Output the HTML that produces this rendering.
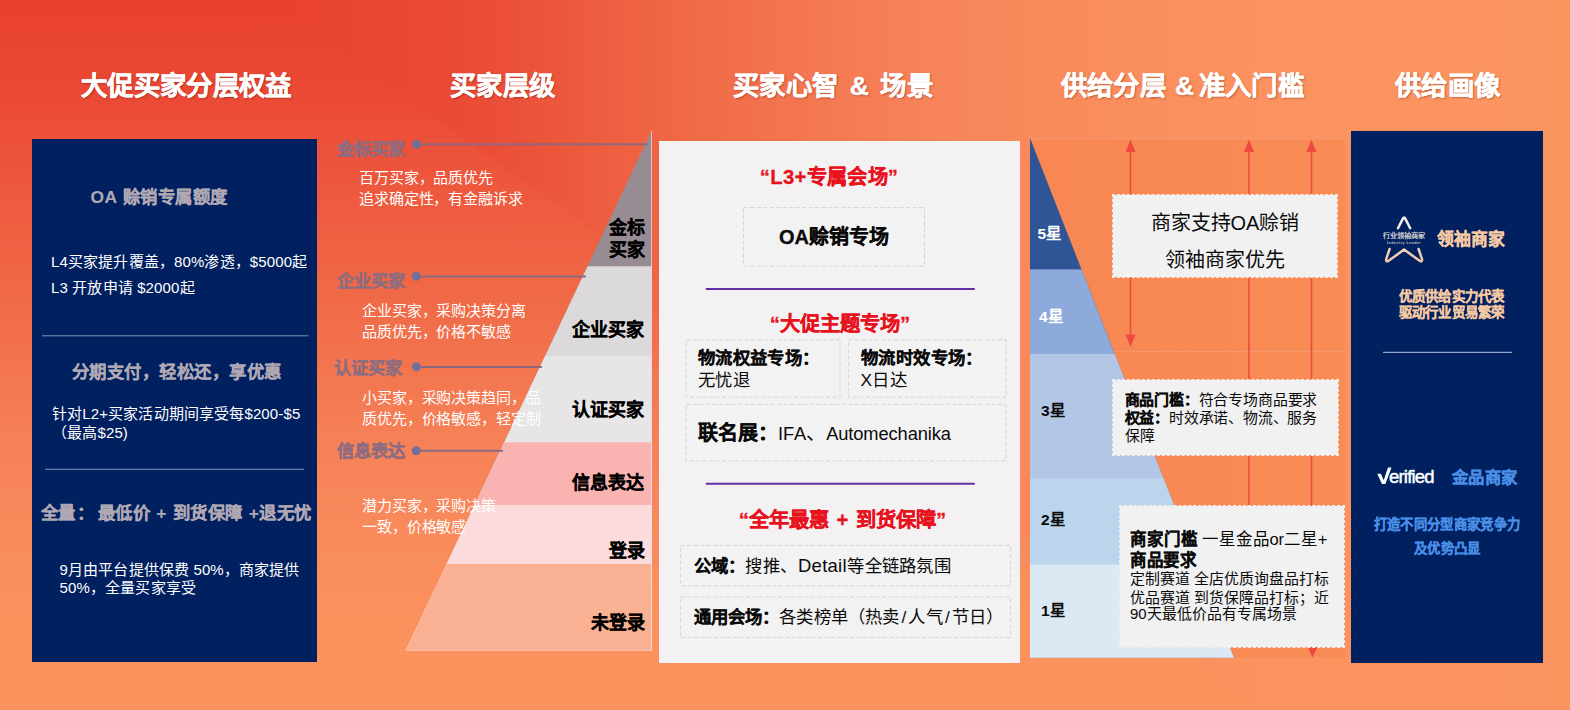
<!DOCTYPE html>
<html lang="zh-CN">
<head>
<meta charset="utf-8">
<title>大促买家分层权益</title>
<style>
html,body{margin:0;padding:0;}
body{width:1570px;height:710px;overflow:hidden;position:relative;font-family:"Liberation Sans",sans-serif;
 background:#fb935f;}
#bg{position:absolute;left:0;top:0;width:1570px;height:710px;}
svg{position:absolute;left:0;top:0;}
.t{position:absolute;white-space:nowrap;line-height:1;font-kerning:none;}
.h{color:#fff;font-weight:700;font-size:26.4px;letter-spacing:.35px;-webkit-text-stroke:.45px #fff;text-shadow:1px 1px 2px rgba(90,20,10,.45);}
.navy{position:absolute;background:#002060;}
.w{color:#fff;letter-spacing:.14px;}
.g{color:#b0a9b4;font-weight:700;font-size:17.4px;letter-spacing:.46px;-webkit-text-stroke:.12px #b0a9b4;}
.lv{color:#8d6c7f;font-weight:700;font-size:17.3px;-webkit-text-stroke:.2px #8d6c7f;}
.d{color:#fff;font-size:15px;letter-spacing:-.12px;}
.pl{color:#000;font-weight:700;font-size:18px;text-align:right;-webkit-text-stroke:.22px #000;}
.red{color:#e8121e;font-weight:700;font-size:20.3px;-webkit-text-stroke:.3px #e8121e;}
.box{position:absolute;border:1px dashed #d2d0d1;box-sizing:border-box;}
.wb{position:absolute;background:#f1f1f2;border:1px dashed #f1ece9;box-sizing:border-box;background-clip:padding-box;}
.k{color:#0a0a0a;}
b{font-weight:700;-webkit-text-stroke:.18px #0a0a0a;}
i{font-style:normal;margin:0 2.1px;}
.st{font-weight:700;font-size:15.5px;}
</style>
</head>
<body>
<svg id="bg" width="1570" height="710" viewBox="0 0 1570 710">
 <defs>
  <linearGradient id="gh" gradientUnits="userSpaceOnUse" x1="270" y1="0" x2="1570" y2="0">
   <stop offset="0" stop-color="#e8402f"/><stop offset=".16" stop-color="#ea4c35"/><stop offset=".33" stop-color="#f06b48"/><stop offset=".5" stop-color="#f7835a"/><stop offset=".62" stop-color="#fa8c5c"/><stop offset=".76" stop-color="#fb925f"/><stop offset="1" stop-color="#fb9560"/>
  </linearGradient>
  <linearGradient id="gv" gradientUnits="userSpaceOnUse" x1="0" y1="0" x2="0" y2="928">
   <stop offset="0" stop-color="#e8402f"/><stop offset=".108" stop-color="#eb4a35"/><stop offset=".215" stop-color="#ee5a3e"/><stop offset=".323" stop-color="#f06a47"/><stop offset=".383" stop-color="#f2734d"/><stop offset=".485" stop-color="#f68258"/><stop offset=".58" stop-color="#f98b5c"/><stop offset=".668" stop-color="#fb925e"/><stop offset="1" stop-color="#fb945f"/>
  </linearGradient>
 </defs>
 <rect x="0" y="0" width="1570" height="710" fill="url(#gh)"/>
 <polygon points="0,0 270,0 1265,710 0,710" fill="url(#gv)"/>
</svg>

<!-- panels -->
<div class="navy" style="left:32px;top:139px;width:285px;height:522.5px;"></div>
<div class="navy" style="left:1351px;top:130.5px;width:192px;height:532.5px;"></div>
<div style="position:absolute;left:659px;top:141px;width:361px;height:522px;background:#f3f1f2;"></div>

<svg width="1570" height="710" viewBox="0 0 1570 710">
 <!-- left pyramid -->
 <defs>
  <clipPath id="lp"><polygon points="651.5,131 651.5,650.5 405.8,650.5"/></clipPath>
  <clipPath id="rp"><polygon points="1030,138 1030,657.5 1233.6,657.5"/></clipPath>
 </defs>
 <g clip-path="url(#lp)">
  <rect x="400" y="120" width="260" height="535.0" fill="#988c94"/>
  <rect x="400" y="266.3" width="260" height="388.7" fill="#dbd9da"/>
  <rect x="400" y="356.3" width="260" height="298.7" fill="#e7e5e6"/>
  <rect x="400" y="442.3" width="260" height="212.7" fill="#f9b3b0"/>
  <rect x="400" y="505.0" width="260" height="150.0" fill="#fbdbdb"/>
  <rect x="400" y="564.0" width="260" height="91.0" fill="#fab092"/>
 </g>
 <line x1="651.5" y1="131" x2="651.5" y2="650.5" stroke="#f3e6e6" stroke-opacity=".7" stroke-width="1"/>

 <!-- right faint region -->
 <rect x="1030" y="138.5" width="315" height="519" fill="#f78349" fill-opacity=".45"/>
 <line x1="1030" y1="138.8" x2="1345" y2="138.8" stroke="#f3a484" stroke-width="1" stroke-opacity=".7"/>
 <line x1="1115" y1="351.5" x2="1345" y2="351.5" stroke="#f3a484" stroke-width="1" stroke-opacity=".5"/>

 <!-- right pyramid -->
 <g clip-path="url(#rp)">
  <rect x="1025" y="130" width="220" height="532.0" fill="#2f5597"/>
  <rect x="1025" y="269.4" width="220" height="392.6" fill="#8eaadb"/>
  <rect x="1025" y="354.0" width="220" height="308.0" fill="#b3c6e6"/>
  <rect x="1025" y="478.5" width="220" height="183.5" fill="#bbd5ed"/>
  <rect x="1025" y="564.5" width="220" height="97.5" fill="#dde8f5"/>
 </g>

 <!-- red arrows -->
 <g stroke="#f04a40" stroke-width="1.6" fill="#f04a40">
  <line x1="1130.5" y1="150" x2="1130.5" y2="338"/>
  <polygon points="1130.5,139.5 1125.5,152 1135.5,152" stroke="none"/>
  <polygon points="1130.5,347 1125.5,334.5 1135.5,334.5" stroke="none"/>
  <line x1="1249" y1="150" x2="1249" y2="505"/>
  <polygon points="1249,139.5 1244,152 1254,152" stroke="none"/>
  <line x1="1311.5" y1="150" x2="1311.5" y2="648"/>
  <polygon points="1311.5,139.5 1306.5,152 1316.5,152" stroke="none"/>
  <polygon points="1312.5,657.5 1307,646 1318,646" stroke="none"/>
 </g>

 <!-- level connector lines -->
 <g stroke="#8d6a7e" stroke-width="2" fill="#72709a">
  <line x1="416" y1="144.3" x2="648" y2="144.3"/><circle cx="416.5" cy="144.2" r="4.5" stroke="none"/>
  <line x1="416" y1="276.4" x2="586" y2="276.4"/><circle cx="416.3" cy="276.2" r="4.5" stroke="none"/>
  <line x1="416" y1="366.9" x2="542" y2="366.9"/><circle cx="416.3" cy="366.8" r="4.5" stroke="none"/>
  <line x1="416" y1="450.7" x2="503" y2="450.7"/><circle cx="416.2" cy="450.7" r="4.5" stroke="none"/>
 </g>


 <!-- center dashed boxes -->
 <g fill="#f2f2f2" stroke="#d4d4d4" stroke-width="1" stroke-dasharray="4.3 2.2">
  <rect x="743.5" y="207.6" width="181" height="58.6"/>
  <rect x="686" y="339.8" width="154" height="57.4"/>
  <rect x="848.6" y="339.8" width="157.4" height="57.4"/>
  <rect x="686" y="404.3" width="320" height="56.6"/>
  <rect x="680.6" y="545.4" width="330" height="40.4"/>
  <rect x="680.6" y="597" width="330" height="40.4"/>
 </g>
 <!-- center purple lines -->
 <line x1="705.8" y1="288.9" x2="974.8" y2="288.9" stroke="#6230a2" stroke-width="2"/>
 <line x1="705.8" y1="483.7" x2="974.8" y2="483.7" stroke="#6230a2" stroke-width="2"/>

 <!-- left panel dividers -->
 <line x1="42" y1="335.8" x2="308.5" y2="335.8" stroke="#7f93b8" stroke-width="1"/>
 <line x1="45" y1="469.3" x2="304" y2="469.3" stroke="#7f93b8" stroke-width="1"/>
 <!-- right panel divider -->
 <line x1="1383" y1="352.3" x2="1512" y2="352.3" stroke="#b5c4e2" stroke-width="1"/>

 <!-- star logo -->
 <defs><linearGradient id="sg" gradientUnits="userSpaceOnUse" x1="0" y1="216" x2="0" y2="263"><stop offset="0" stop-color="#f6f1ec"/><stop offset=".55" stop-color="#f3dcc6"/><stop offset="1" stop-color="#efc4a0"/></linearGradient></defs>
 <g fill="none" stroke="url(#sg)" stroke-width="2.5" stroke-linecap="round" stroke-linejoin="round">
  <path d="M1398 228.2 L1402.9 218.6 Q1404.1 216.6 1405.3 218.6 L1410.2 228.2"/>
  <path d="M1389.6 249 L1386.2 259.2 Q1385.6 262.4 1388.6 260.8 L1404.1 249.6 L1419.6 260.8 Q1422.6 262.4 1422 259.2 L1418.6 249"/>
 </g>
 <!-- Verified V -->
 <path d="M1377.2 473.7 L1380.9 473.7 L1383.7 480.2 L1388 467.5 L1391.5 467.5 L1385.4 484 L1382 484 Z" fill="#fff"/>
</svg>

<!-- headers -->
<div class="t h" style="left:81px;top:72.7px;">大促买家分层权益</div>
<div class="t h" style="left:450px;top:72.7px;">买家层级</div>
<div class="t h" style="left:733px;top:72.7px;word-spacing:3.6px;">买家心智 &amp; 场景</div>
<div class="t h" style="left:1060.5px;top:72.7px;">供给分层 <span style="margin:0 4px 0 1.5px">&amp;</span>准入门槛</div>
<div class="t h" style="left:1395px;top:72.7px;">供给画像</div>

<!-- left panel text -->
<div class="t g" style="left:90.5px;top:188.5px;">OA 赊销专属额度</div>
<div class="t w" style="left:51px;top:253.5px;font-size:15px;">L4买家提升覆盖，80%渗透，$5000起</div>
<div class="t w" style="left:51px;top:280px;font-size:15px;">L3 开放申请 $2000起</div>
<div class="t g" style="left:72px;top:363.5px;">分期支付，轻松还，享优惠</div>
<div class="t w" style="left:52px;top:406px;font-size:15px;">针对L2+买家活动期间享受每$200-$5</div>
<div class="t w" style="left:52px;top:425px;font-size:15px;">（最高$25)</div>
<div class="t g" style="left:40.5px;top:504.5px;word-spacing:.7px;">全量<span style="margin:0 -3px 0 2px">：</span> 最低价 + 到货保障 +退无忧</div>
<div class="t w" style="left:59.5px;top:562px;font-size:15px;">9月由平台提供保费 50%，商家提供</div>
<div class="t w" style="left:59.5px;top:580px;font-size:15px;">50%，全量买家享受</div>

<!-- buyer level labels -->
<div class="t lv" style="left:336.5px;top:141px;">金标买家</div>
<div class="t d" style="left:359px;top:170px;">百万买家，品质优先</div>
<div class="t d" style="left:359px;top:191px;">追求确定性，有金融诉求</div>
<div class="t lv" style="left:336.5px;top:273.4px;">企业买家</div>
<div class="t d" style="left:362px;top:303px;">企业买家，采购决策分离</div>
<div class="t d" style="left:362px;top:324px;">品质优先，价格不敏感</div>
<div class="t lv" style="left:334px;top:360.3px;">认证买家</div>
<div class="t d" style="left:362px;top:390px;">小买家，采购决策趋同，品</div>
<div class="t d" style="left:362px;top:411px;">质优先，价格敏感，轻定制</div>
<div class="t lv" style="left:337px;top:443px;">信息表达</div>
<div class="t d" style="left:362px;top:498px;">潜力买家，采购决策</div>
<div class="t d" style="left:362px;top:519px;">一致，价格敏感</div>

<!-- pyramid labels -->
<div class="t pl" style="left:544.5px;width:100px;top:218.5px;">金标</div>
<div class="t pl" style="left:545px;width:100px;top:241px;">买家</div>
<div class="t pl" style="left:544px;width:100px;top:321px;">企业买家</div>
<div class="t pl" style="left:544px;width:100px;top:401px;">认证买家</div>
<div class="t pl" style="left:544px;width:100px;top:474.2px;">信息表达</div>
<div class="t pl" style="left:545px;width:100px;top:542px;">登录</div>
<div class="t pl" style="left:545px;width:100px;top:614px;">未登录</div>

<!-- center panel -->
<div class="t red" style="left:659px;width:340px;text-align:center;top:166.5px;letter-spacing:.3px;">“L3+专属会场”</div>
<div class="t k" style="left:743px;width:182px;text-align:center;top:226.8px;font-weight:700;font-size:20px;-webkit-text-stroke:.3px #0a0a0a;">OA赊销专场</div>
<div class="t red" style="left:670px;width:340px;text-align:center;top:313.8px;">“大促主题专场”</div>
<div class="t k" style="left:698px;top:349.5px;font-size:17.33px;letter-spacing:.33px;font-weight:700;-webkit-text-stroke:.18px #0a0a0a;">物流权益专场：</div>
<div class="t k" style="left:698px;top:371.5px;font-size:17.33px;letter-spacing:.33px;">无忧退</div>
<div class="t k" style="left:861px;top:349.5px;font-size:17.33px;letter-spacing:.4px;font-weight:700;-webkit-text-stroke:.18px #0a0a0a;">物流时效专场：</div>
<div class="t k" style="left:860.5px;top:371.5px;font-size:17.33px;letter-spacing:.33px;">X日达</div>
<div class="t k" style="left:698px;top:423px;font-size:20px;"><b>联名展：</b><span style="font-size:18.3px;letter-spacing:-.1px;">IFA</span>、<span style="font-size:18.3px;letter-spacing:-.1px;">Automechanika</span></div>
<div class="t red" style="left:670px;width:340px;text-align:center;top:509.5px;word-spacing:2px;left:672.5px;">“全年最惠 + 到货保障”</div>
<div class="t k" style="left:693.5px;top:556.6px;font-size:17.33px;letter-spacing:.25px;"><b>公域：</b>搜推、<span style="font-size:18.5px;margin:0 .5px 0 1px">Detail</span>等全链路氛围</div>
<div class="t k" style="left:693.5px;top:608.5px;font-size:17.33px;letter-spacing:.15px;"><b>通用会场：</b>各类榜单（热卖<i>/</i>人气<i>/</i>节日）</div>

<!-- star labels -->
<div class="t st w" style="left:1037.5px;top:225.5px;">5星</div>
<div class="t st w" style="left:1039px;top:308.5px;">4星</div>
<div class="t st k" style="left:1041px;top:402.5px;">3星</div>
<div class="t st k" style="left:1041px;top:512px;">2星</div>
<div class="t st k" style="left:1041px;top:603px;">1星</div>

<!-- right boxes -->
<div class="wb" style="left:1111.8px;top:193.7px;width:226.4px;height:84px;"></div>
<div class="t k" style="left:1112px;width:226px;text-align:center;top:212.5px;font-size:20px;">商家支持OA赊销</div>
<div class="t k" style="left:1112px;width:226px;text-align:center;top:250px;font-size:20px;">领袖商家优先</div>
<div class="wb" style="left:1112.3px;top:379.2px;width:226.5px;height:77px;"></div>
<div class="t k" style="left:1124.5px;top:392.5px;font-size:14.9px;letter-spacing:-.18px;"><b>商品门槛：</b>符合专场商品要求</div>
<div class="t k" style="left:1124.5px;top:410.7px;font-size:14.9px;letter-spacing:-.2px;"><b>权益：</b>时效承诺、物流、服务</div>
<div class="t k" style="left:1124.5px;top:428.8px;font-size:14.9px;">保障</div>
<div class="wb" style="left:1118.5px;top:504.8px;width:226.6px;height:143px;"></div>
<div class="t k" style="left:1130px;top:531px;font-size:16.5px;letter-spacing:-.12px;"><b>商家门槛</b> 一星金品or二星+</div>
<div class="t k" style="left:1130px;top:552px;font-size:16.5px;letter-spacing:-.4px;"><b>商品要求</b></div>
<div class="t k" style="left:1130px;top:572px;font-size:14.9px;">定制赛道 全店优质询盘品打标</div>
<div class="t k" style="left:1130px;top:590.5px;font-size:14.9px;">优品赛道 到货保障品打标；近</div>
<div class="t k" style="left:1130px;top:607px;font-size:14.9px;">90天最低价品有专属场景</div>

<!-- right navy panel -->
<div class="t" style="left:1382.8px;top:233.3px;font-size:7.15px;color:#f0e9e0;letter-spacing:0;-webkit-text-stroke:.15px #f0e9e0;">行业领袖商家</div>
<div class="t" style="left:1387px;top:241.6px;font-size:3.6px;color:#c9c2c2;letter-spacing:.48px;font-weight:700;">Industry Leader</div>
<div class="t" style="left:1437px;top:231.5px;font-size:16.8px;font-weight:700;color:#f5c9a3;-webkit-text-stroke:.3px #f5c9a3;">领袖商家</div>
<div class="t" style="left:1351px;width:200px;text-align:center;top:290px;font-size:13.45px;letter-spacing:.25px;left:1351.6px;font-weight:700;color:#f5c9a3;-webkit-text-stroke:.25px #f5c9a3;">优质供给实力代表</div>
<div class="t" style="left:1351px;width:200px;text-align:center;top:306px;font-size:13.45px;letter-spacing:.25px;left:1351.6px;font-weight:700;color:#f5c9a3;-webkit-text-stroke:.25px #f5c9a3;">驱动行业贸易繁荣</div>
<div class="t w" style="left:1389px;top:468.1px;font-size:18.5px;letter-spacing:-.8px;-webkit-text-stroke:.45px #fff;">erified</div>
<div class="t" style="left:1451.5px;top:469px;font-size:16.3px;letter-spacing:.5px;font-weight:700;color:#4a8fe6;-webkit-text-stroke:.3px #4a8fe6;">金品商家</div>
<div class="t" style="left:1347px;width:200px;text-align:center;top:518.3px;font-size:13.35px;letter-spacing:.33px;left:1346.9px;font-weight:700;color:#4a8fe6;-webkit-text-stroke:.25px #4a8fe6;">打造不同分型商家竞争力</div>
<div class="t" style="left:1347px;width:200px;text-align:center;top:542.2px;font-size:13.35px;letter-spacing:.27px;left:1347.3px;font-weight:700;color:#4a8fe6;-webkit-text-stroke:.25px #4a8fe6;">及优势凸显</div>
</body>
</html>
